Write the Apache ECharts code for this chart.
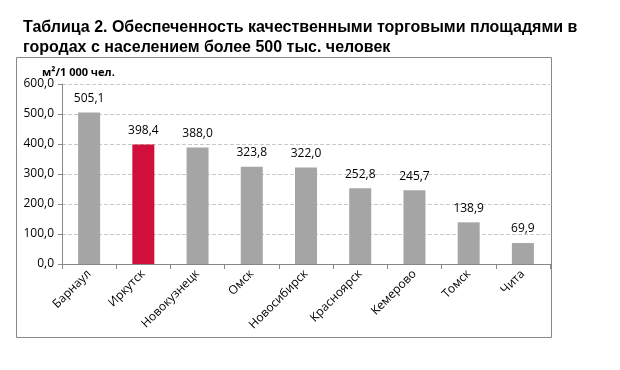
<!DOCTYPE html>
<html><head><meta charset="utf-8">
<script src="https://cdn.jsdelivr.net/npm/echarts@6/dist/echarts.min.js"></script>
<style>html,body{margin:0;padding:0;background:#fff}#c{width:620px;height:370px}</style>
</head><body><div id="c"></div>
<script>
var categories = ['Барнаул','Иркутск','Новокузнецк','Омск','Новосибирск','Красноярск','Кемерово','Томск','Чита'];
var values = [505.1, 398.4, 388.0, 323.8, 322.0, 252.8, 245.7, 138.9, 69.9];
var highlight = 'Иркутск';
var yTicks = {min: 0, max: 600, interval: 100};
var titleLines = ['Таблица 2. Обеспеченность качественными торговыми площадями в', 'городах с населением более 500 тыс. человек'];
var unitLabel = 'м²/1 000 чел.';

function fmt(v){ return v.toFixed(1).replace('.', ','); }
var chart = echarts.init(document.getElementById('c'), null, {renderer:'canvas'});
chart.setOption({
  animation:false,
  title:{text: titleLines.join('\n'), left:18, top:13, textStyle:{fontFamily:'Liberation Sans, Arial', fontWeight:'bold', fontSize:16, color:'#000', lineHeight:20}},
  graphic:[{type:'rect', shape:{x:16.5, y:57.5, width:535, height:280}, style:{fill:'none', stroke:'#888', lineWidth:1}, silent:true}],
  grid:{left:62, right:70, top:84, bottom:106, containLabel:false},
  xAxis:{type:'category', data:categories,
    axisLine:{lineStyle:{color:'#888'}}, axisTick:{show:true, lineStyle:{color:'#888'}, length:5},
    axisLabel:{rotate:45, fontFamily:'Open Sans', fontSize:12, color:'#000', margin:8, interval:0}},
  yAxis:{type:'value', min:yTicks.min, max:yTicks.max, interval:yTicks.interval,
    name: unitLabel, nameLocation:'end', nameGap:6, nameTextStyle:{fontFamily:'Open Sans', fontWeight:'bold', fontSize:11, color:'#000', align:'left', padding:[0,0,0,-20]},
    axisLine:{show:true, lineStyle:{color:'#888'}}, axisTick:{show:true, inside:false, length:4, lineStyle:{color:'#888'}},
    splitLine:{lineStyle:{color:'#c8c8c8', type:[4,2]}},
    axisLabel:{formatter:function(v){return fmt(v);}, fontFamily:'Open Sans', fontSize:12, color:'#000', margin:8}},
  series:[{type:'bar', barWidth:22,
    data: values.map(function(v,i){return {value:v, itemStyle:{color: categories[i]===highlight ? '#d0103a' : '#a5a5a5'}};}),
    label:{show:true, position:'top', distance:8, formatter:function(p){return fmt(p.value);}, fontFamily:'Open Sans', fontSize:12, color:'#000'}
  }]
});
</script></body></html>
